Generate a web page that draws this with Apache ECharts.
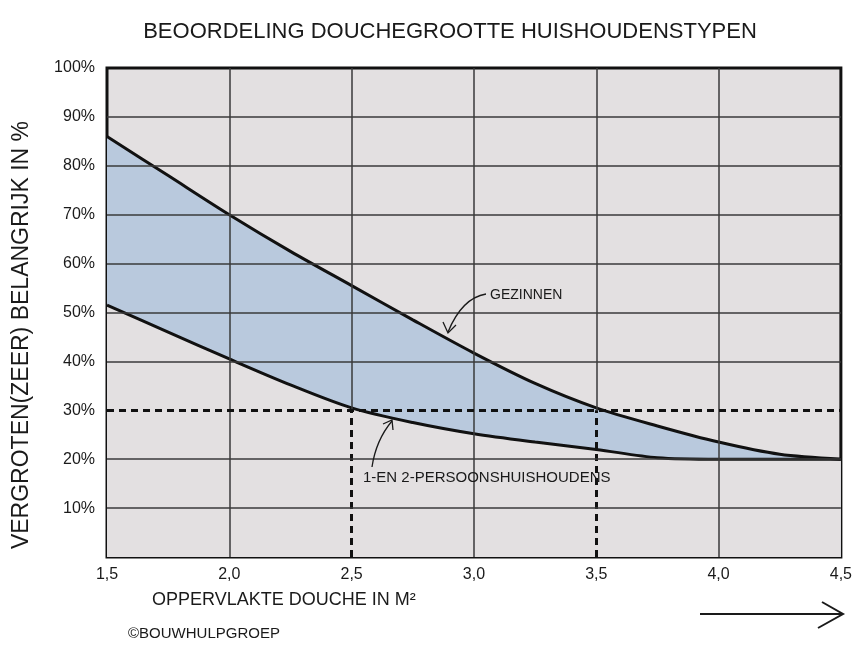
<!DOCTYPE html>
<html>
<head>
<meta charset="utf-8">
<script src="https://cdn.jsdelivr.net/npm/echarts@6/dist/echarts.min.js"></script>
<style>html,body{margin:0;padding:0;background:#fff;}#c{width:855px;height:650px;}</style>
</head>
<body>
<div id="c"></div>
<script>
// ---- data ----
const xValues   = [1.5, 1.75, 2.0, 2.25, 2.5, 2.75, 3.0, 3.25, 3.5, 3.75, 4.0, 4.25, 4.5];
const gezinnen  = [86, 78, 70, 62.5, 55.5, 48.5, 41.7, 35.5, 30.5, 26.8, 23.5, 21, 20];
const kleinHuishouden = [51.5, 46, 40.5, 35.2, 30.5, 27.5, 25.2, 23.5, 22, 20.3, 20, 20, 20];
const xTicks = [1.5, 2.0, 2.5, 3.0, 3.5, 4.0, 4.5];
const yTicks = [0, 10, 20, 30, 40, 50, 60, 70, 80, 90, 100];
const thresholdY = 30;
const thresholdX = [2.5, 3.5];

const titleText = 'BEOORDELING DOUCHEGROOTTE HUISHOUDENSTYPEN';
const yName = 'VERGROTEN(ZEER) BELANGRIJK IN %';
const xName = 'OPPERVLAKTE DOUCHE IN M²';
const credit = '©BOUWHULPGROEP';
const labelGezin = 'GEZINNEN';
const labelKlein = '1-EN 2-PERSOONSHUISHOUDENS';

const FONT = "'Liberation Sans','DejaVu Sans',sans-serif";
const INK = '#1a1a1a';
const PLOT_BG = '#e3e0e1';
const BAND = '#b9c9dd';

// ---- build ----
const lowerPts = xValues.map((x, i) => [x, kleinHuishouden[i]]);
const upperPts = xValues.map((x, i) => [x, gezinnen[i]]);

const gridLines = [];
const solid = {type: 'solid', color: '#3a3a3a', width: 1.5};
const dashed = {type: [7, 5], color: '#111', width: 3};
const xMin = xTicks[0], xMax = xTicks[xTicks.length - 1];
const yMin = yTicks[0], yMax = yTicks[yTicks.length - 1];
xTicks.slice(1, -1).forEach(x => {
  if (thresholdX.includes(x)) {
    gridLines.push([{coord: [x, thresholdY], lineStyle: solid}, {coord: [x, yMax]}]);
    gridLines.push([{coord: [x, yMin], lineStyle: dashed}, {coord: [x, thresholdY]}]);
  } else {
    gridLines.push([{coord: [x, yMin], lineStyle: solid}, {coord: [x, yMax]}]);
  }
});
yTicks.slice(1, -1).forEach(y => {
  if (y === thresholdY) {
    gridLines.push([{coord: [xMin, y], lineStyle: dashed}, {coord: [xMax, y]}]);
  } else {
    gridLines.push([{coord: [xMin, y], lineStyle: solid}, {coord: [xMax, y]}]);
  }
});

const SMOOTH = 0.3;
const chart = echarts.init(document.getElementById('c'), null, {renderer: 'canvas'});
const option = {
  animation: false,
  backgroundColor: '#ffffff',
  title: {
    text: titleText, left: 445, top: 16, textAlign: 'center',
    textStyle: {fontFamily: FONT, fontSize: 22, fontWeight: 'normal', color: INK}
  },
  grid: {
    left: 107, right: 12, top: 68, bottom: 93,
    show: true, backgroundColor: PLOT_BG, borderColor: '#111', borderWidth: 3
  },
  xAxis: {
    type: 'value', min: xMin, max: xMax, interval: 0.5,
    axisLine: {show: false}, axisTick: {show: false}, splitLine: {show: false},
    axisLabel: {
      margin: 10, color: INK, fontFamily: FONT, fontSize: 16,
      formatter: v => v.toFixed(1).replace('.', ',')
    }
  },
  yAxis: {
    type: 'value', min: yMin, max: yMax, interval: 10,
    axisLine: {show: false}, axisTick: {show: false}, splitLine: {show: false},
    axisLabel: {
      margin: 12, color: INK, fontFamily: FONT, fontSize: 16,
      formatter: v => v === 0 ? '' : v + '%'
    }
  },
  series: [
    {
      name: 'upperFill', type: 'line', data: upperPts, smooth: SMOOTH,
      showSymbol: false, z: 1, silent: true,
      lineStyle: {width: 0, opacity: 0},
      areaStyle: {color: BAND, opacity: 1}
    },
    {
      name: 'lowerFill', type: 'line', data: lowerPts, smooth: SMOOTH,
      showSymbol: false, z: 1, silent: true,
      lineStyle: {width: 0, opacity: 0},
      areaStyle: {color: PLOT_BG, opacity: 1}
    },
    {
      name: 'grid', type: 'line', data: [], z: 2, silent: true,
      markLine: {
        silent: true, symbol: ['none', 'none'], label: {show: false},
        animation: false, data: gridLines
      }
    },
    {
      name: 'Gezinnen', type: 'line', data: upperPts, smooth: SMOOTH,
      showSymbol: false, z: 4,
      lineStyle: {color: '#111', width: 3}
    },
    {
      name: '1- en 2-persoonshuishoudens', type: 'line', data: lowerPts, smooth: SMOOTH,
      showSymbol: false, z: 4,
      lineStyle: {color: '#111', width: 3}
    }
  ],
  graphic: [
    {type: 'text', x: 22, y: 335, rotation: Math.PI / 2, z: 100,
     style: {text: yName, fontFamily: FONT, fontSize: 23, fill: INK,
             align: 'center', verticalAlign: 'middle'}},
    {type: 'text', left: 152, top: 591, z: 100,
     style: {text: xName, fontFamily: FONT, fontSize: 18, fill: INK}},
    {type: 'text', left: 128, top: 626, z: 100,
     style: {text: credit, fontFamily: FONT, fontSize: 15, fill: INK}},
    {type: 'line', z: 100, shape: {x1: 700, y1: 614, x2: 843, y2: 614},
     style: {stroke: INK, lineWidth: 2}},
    {type: 'polyline', z: 100, shape: {points: [[822, 602], [843, 614], [818, 628]]},
     style: {stroke: INK, lineWidth: 2, fill: null}},
    {type: 'text', left: 490, top: 288, z: 100,
     style: {text: labelGezin, fontFamily: FONT, fontSize: 14, fill: INK}},
    {type: 'bezierCurve', z: 100, shape: {x1: 486, y1: 294, cpx1: 462, cpy1: 298, x2: 448, y2: 332},
     style: {stroke: INK, lineWidth: 1.3, fill: null}},
    {type: 'polyline', z: 100, shape: {points: [[443, 322], [448, 333], [456, 325]]},
     style: {stroke: INK, lineWidth: 1.3, fill: null}},
    {type: 'text', left: 363, top: 470, z: 100,
     style: {text: labelKlein, fontFamily: FONT, fontSize: 15, fill: INK}},
    {type: 'bezierCurve', z: 100, shape: {x1: 372, y1: 467, cpx1: 376, cpy1: 440, x2: 392, y2: 421},
     style: {stroke: INK, lineWidth: 1.3, fill: null}},
    {type: 'polyline', z: 100, shape: {points: [[383, 424], [392, 420], [393, 430]]},
     style: {stroke: INK, lineWidth: 1.3, fill: null}}
  ]
};
chart.setOption(option);
</script>
</body>
</html>
